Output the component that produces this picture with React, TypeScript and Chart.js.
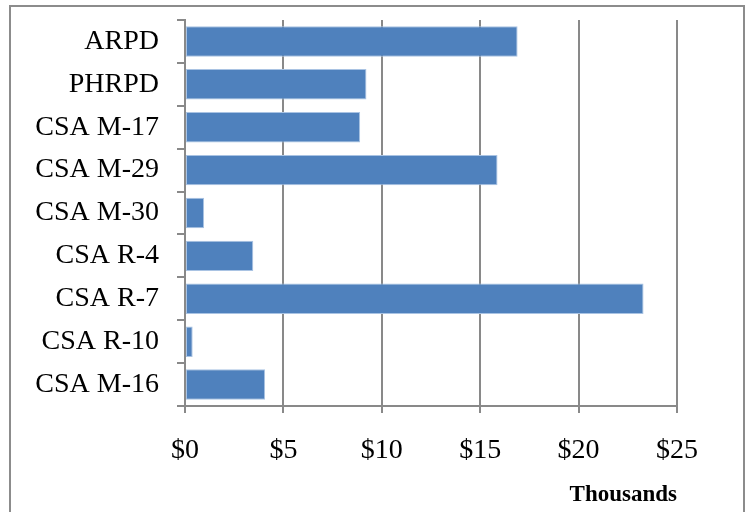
import React, { useEffect, useRef } from "react";
import { Chart, registerables } from "chart.js";

Chart.register(...registerables);

const categories = [
  "ARPD",
  "PHRPD",
  "CSA M-17",
  "CSA M-29",
  "CSA M-30",
  "CSA R-4",
  "CSA R-7",
  "CSA R-10",
  "CSA M-16",
];
const values = [16.9, 9.22, 8.9, 15.88, 0.97, 3.47, 23.3, 0.39, 4.07];
const xMin = 0;
const xMax = 25;
const xStep = 5;
const axisTitle = "Thousands";

export default function App() {
  const ref = useRef<HTMLCanvasElement | null>(null);

  useEffect(() => {
    if (!ref.current) return;
    const grey = "#898989";
    const chart = new Chart(ref.current, {
      type: "bar",
      data: {
        labels: categories,
        datasets: [
          {
            data: values,
            backgroundColor: "#4F81BD",
            borderColor: "#A9C3E3",
            borderWidth: 1,
            borderSkipped: false,
            barPercentage: 0.71,
            categoryPercentage: 1,
          },
        ],
      },
      options: {
        indexAxis: "y",
        animation: false,
        responsive: false,
        maintainAspectRatio: false,
        layout: { padding: { top: 20, right: 70, left: 0, bottom: 0 } },
        plugins: { legend: { display: false }, tooltip: { enabled: false } },
        scales: {
          x: {
            type: "linear",
            min: xMin,
            max: xMax,
            afterFit: (s: any) => {
              s.height = 106;
            },
            ticks: {
              stepSize: xStep,
              color: "#000",
              padding: 21,
              font: { family: "'Liberation Serif', serif", size: 28 },
              callback: (v: any) => "$" + v,
            },
            grid: {
              color: grey,
              lineWidth: 2,
              drawTicks: true,
              tickLength: 7,
            },
            border: { color: grey, width: 2 },
            title: {
              display: true,
              text: axisTitle,
              align: "end",
              color: "#000",
              padding: { top: 0, bottom: 3 },
              font: { family: "'Liberation Serif', serif", size: 23, weight: "bold" },
            },
          },
          y: {
            afterFit: (s: any) => {
              s.width = 185;
              s.paddingTop = 0;
              s.paddingBottom = 0;
            },
            ticks: {
              color: "#000",
              padding: 18,
              font: { family: "'Liberation Serif', serif", size: 28, lineHeight: 0.2 },
            },
            grid: {
              color: grey,
              lineWidth: 2,
              drawOnChartArea: false,
              drawTicks: true,
              tickLength: 8,
            },
            border: { color: grey, width: 2 },
          },
        },
      },
    });
    return () => chart.destroy();
  }, []);

  return (
    <div
      style={{
        position: "absolute",
        left: 0,
        top: 0,
        width: 747,
        height: 512,
        overflow: "hidden",
        background: "#fff",
      }}
    >
      <div
        style={{
          position: "absolute",
          left: 9,
          top: 5,
          width: 736,
          height: 540,
          border: "2px solid #8c8c8c",
          boxSizing: "border-box",
        }}
      />
      <canvas
        ref={ref}
        width={747}
        height={512}
        style={{ position: "absolute", left: 0, top: 0, width: 747, height: 512 }}
      />
    </div>
  );
}
